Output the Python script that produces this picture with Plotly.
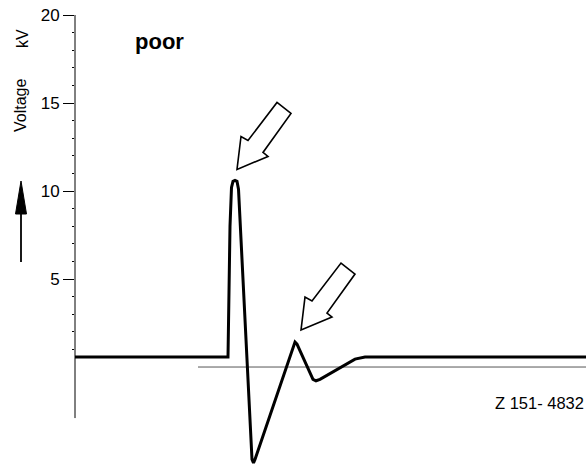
import plotly.graph_objects as go

# ---- data (time in arbitrary units, voltage in kV) ----
time_us = [0.0, 15.3, 15.5, 15.65, 15.8, 16.0, 16.2, 16.35, 17.7, 17.85, 18.0,
           21.8, 22.0, 22.2, 23.8, 24.1, 24.5, 28.0, 29.0, 51.1]
voltage_kv = [0.57, 0.57, 8.0, 10.2, 10.55, 10.6, 10.55, 10.1, -5.25, -5.45, -5.25,
              1.2, 1.42, 1.3, -0.7, -0.78, -0.7, 0.45, 0.57, 0.57]
zero_line_t = [12.3, 51.1]
zero_line_v = [0.0, 0.0]
arrow_target_idx = [5, 12]          # the two marked peaks
tick_vals = [5, 10, 15, 20]
tick_text = ["5", "10", "15", "20"]
minor_vals = [v for v in range(1, 20) if v % 5 != 0]

Y_RANGE = [-5.85, 20]
X_RANGE = [0, 51.1]
W, H = 586, 470
ML, MR, MT, MB = 75, 0, 15, 0
FONT = "Liberation Sans"

def px_to_paper(px, py):
    return (px - ML) / (W - ML - MR), (H - MB - py) / (H - MT - MB)

fig = go.Figure()
fig.add_trace(go.Scatter(x=zero_line_t, y=zero_line_v, mode="lines",
                         line=dict(color="#555555", width=1), hoverinfo="skip"))
fig.add_trace(go.Scatter(x=time_us, y=voltage_kv, mode="lines",
                         line=dict(color="black", width=3), hoverinfo="skip"))

shapes = []
# y axis line (stops a little below zero)
y0p = (-2.9 - Y_RANGE[0]) / (Y_RANGE[1] - Y_RANGE[0])
shapes.append(dict(type="line", xref="paper", yref="paper", x0=0, x1=0, y0=y0p, y1=1,
                   line=dict(color="black", width=1)))

# hollow block arrows pointing at the peaks (pixel offsets relative to the tip)
template = [(0, 0), (4, 33), (11, 29), (40, 67), (54, 56), (26, 17), (31, 13)]
tip_offsets = [(2, 11), (6, 12)]
for idx, (ox, oy) in zip(arrow_target_idx, tip_offsets):
    pts = [(ox + dx, oy + dy) for dx, dy in template]
    path = "M " + " L ".join(f"{x},{y}" for x, y in pts) + " Z"
    shapes.append(dict(type="path", xref="x", yref="y", xsizemode="pixel", ysizemode="pixel",
                       xanchor=time_us[idx], yanchor=voltage_kv[idx], path=path,
                       fillcolor="white", line=dict(color="black", width=1.6)))

# upward arrow next to the axis label
sx, sy0 = px_to_paper(21, 262)
_, sy1 = px_to_paper(21, 212)
shapes.append(dict(type="line", xref="paper", yref="paper", x0=sx, x1=sx, y0=sy0, y1=sy1,
                   line=dict(color="black", width=1.8)))
ax1, ay1 = px_to_paper(15.5, 214)
ax2, ay2 = px_to_paper(21, 181)
ax3, _ = px_to_paper(26.5, 214)
shapes.append(dict(type="path", xref="paper", yref="paper",
                   path=f"M {ax1},{ay1} L {ax2},{ay2} L {ax3},{ay1} Z",
                   fillcolor="black", line=dict(color="black", width=1)))

annotations = []
px_, py_ = px_to_paper(133, 41)
annotations.append(dict(text="<b>poor</b>", xref="paper", yref="paper", x=px_, y=py_,
                        xanchor="left", yanchor="middle", showarrow=False,
                        font=dict(family=FONT, size=22, color="black")))
vx, vy = px_to_paper(21, 106)
annotations.append(dict(text="Voltage", xref="paper", yref="paper", x=vx, y=vy,
                        xanchor="center", yanchor="middle", textangle=-90, showarrow=False,
                        font=dict(family=FONT, size=16, color="black")))
kx, ky = px_to_paper(22, 39)
annotations.append(dict(text="kV", xref="paper", yref="paper", x=kx, y=ky,
                        xanchor="center", yanchor="middle", textangle=-90, showarrow=False,
                        font=dict(family=FONT, size=16, color="black")))
zx, zy = px_to_paper(586, 403)
annotations.append(dict(text="Z 151- 4832", xref="paper", yref="paper", x=zx, y=zy,
                        xanchor="right", yanchor="middle", showarrow=False,
                        font=dict(family=FONT, size=16.5, color="black")))

fig.update_layout(
    width=W, height=H, margin=dict(l=ML, r=MR, t=MT, b=MB),
    paper_bgcolor="white", plot_bgcolor="white", showlegend=False,
    shapes=shapes, annotations=annotations,
    xaxis=dict(range=X_RANGE, visible=False, fixedrange=True),
    yaxis=dict(range=Y_RANGE, showline=False, showgrid=False, zeroline=False,
               tickmode="array", tickvals=tick_vals, ticktext=tick_text,
               ticks="outside", ticklen=11, tickwidth=1, tickcolor="black",
               tickfont=dict(family=FONT, size=17, color="black"),
               minor=dict(tickmode="array", tickvals=minor_vals, ticks="outside",
                          ticklen=2, tickcolor="black", tickwidth=1),
               fixedrange=True),
)

fig.write_html("out.html", config={"displayModeBar": False},
               post_script="document.body.style.margin='0';document.body.style.overflow='hidden';")
